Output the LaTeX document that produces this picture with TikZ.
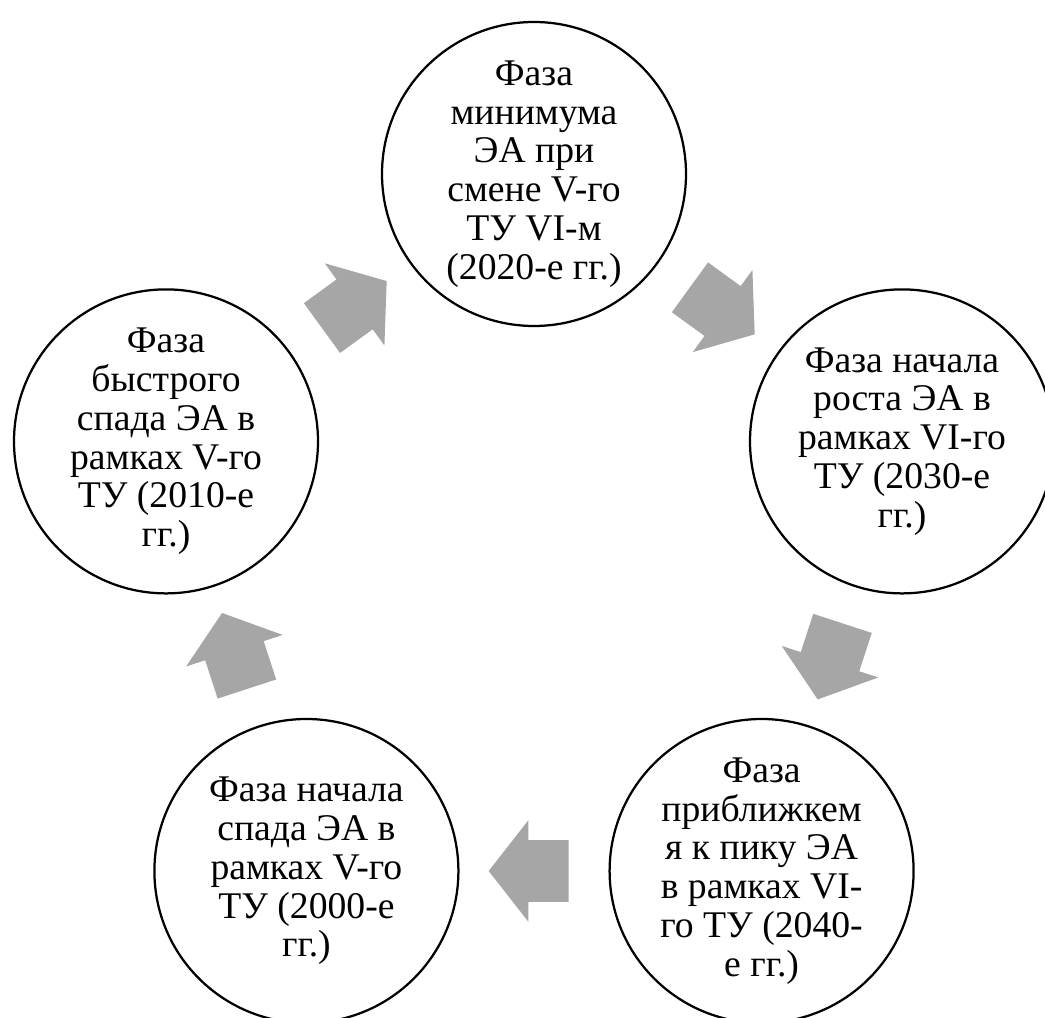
\documentclass[tikz,border=0pt]{standalone}
\usepackage{fontspec}
\setmainfont{Liberation Serif}
\usepackage{tikz}
\usetikzlibrary{shapes.arrows}

\definecolor{arrowgray}{RGB}{166,166,166}
\tikzset{
	phase/.style={circle, draw=black, line width=1.6pt, fill=white, minimum size=7.6cm, inner sep=0pt, align=center, font=\fontsize{26.8}{27.6}\selectfont},
	cyclearrow/.style={single arrow, fill=arrowgray, draw=none, inner xsep=0pt, inner ysep=0.7625cm, minimum height=2cm, single arrow head extend=0.5cm, single arrow tip angle=104, sloped, allow upside down, pos=0.455}
}

\begin{document}
\begin{tikzpicture}
		\useasboundingbox (0,0) rectangle (26.125,25.425);
		
		\node[phase] (top) at (13.35, 21.075) {Фаза\\минимума\\ЭА при\\смене V-го\\ТУ VI-м\\(2020-е гг.)};
		\node[phase] (right) at (22.55, 14.39) {Фаза начала\\роста ЭА в\\рамках VI-го\\ТУ (2030-е\\гг.)};
		\node[phase] (botright) at (19.04, 3.65) {Фаза\\приближкем\\я к пику ЭА\\в рамках VI-\\го ТУ (2040-\\е гг.)};
		\node[phase] (botleft) at (7.66, 3.65) {Фаза начала\\спада ЭА в\\рамках V-го\\ТУ (2000-е\\гг.)};
		\node[phase] (left) at (4.15, 14.39) {Фаза\\быстрого\\спада ЭА в\\рамках V-го\\ТУ (2010-е\\гг.)};
		
		\path (top) -- node[cyclearrow] {} (right);
		\path (right) -- node[cyclearrow] {} (botright);
		\path (botright) -- node[cyclearrow] {} (botleft);
		\path (botleft) -- node[cyclearrow] {} (left);
		\path (left) -- node[cyclearrow] {} (top);
	\end{tikzpicture}
\end{document}
